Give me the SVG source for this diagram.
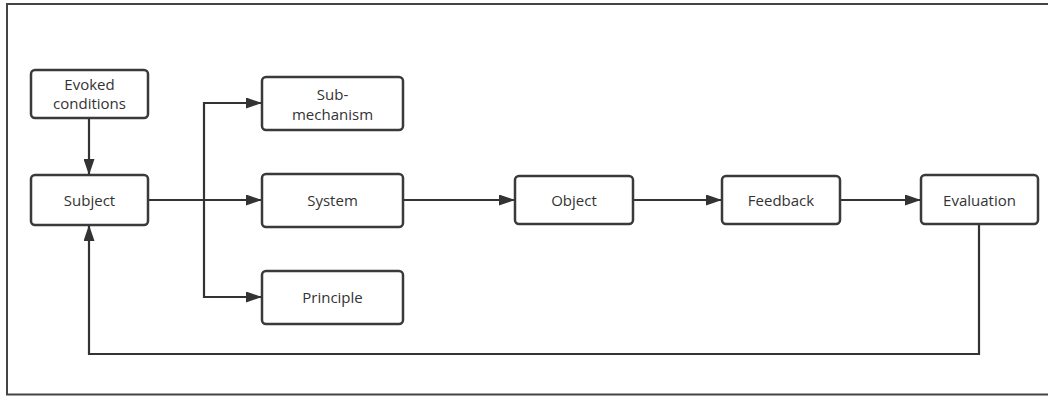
<svg xmlns="http://www.w3.org/2000/svg" width="1048" height="396" viewBox="0 0 1048 396">
<defs>
<style>
.node rect{fill:#fff;stroke:#3a3a3a;stroke-width:2.5}
.node text{font-family:"Open Sans","Noto Sans",sans-serif;font-size:15px;fill:#333;text-anchor:middle}
.conn path{fill:none;stroke:#333;stroke-width:2.2}
</style>
<marker id="ah" viewBox="0 0 16 11" refX="16" refY="5.5" markerWidth="16" markerHeight="11" markerUnits="userSpaceOnUse" orient="auto">
<path d="M0,0 L16,5.5 L0,11 Z" fill="#333"/>
</marker>
</defs>
<rect x="0" y="0" width="1048" height="396" fill="#fff"/>
<rect x="7" y="4" width="1060" height="390.5" fill="none" stroke="#444" stroke-width="2"/>
<g class="conn">
<path d="M89,118 L89,175" marker-end="url(#ah)"/>
<path d="M149,200 L262,200" marker-end="url(#ah)"/>
<path d="M204,200 L204,103 L262,103" marker-end="url(#ah)"/>
<path d="M204,200 L204,297 L262,297" marker-end="url(#ah)"/>
<path d="M403,200 L515,200" marker-end="url(#ah)"/>
<path d="M633,200 L722,200" marker-end="url(#ah)"/>
<path d="M840,200 L921,200" marker-end="url(#ah)"/>
<path d="M979,224 L979,354 L89,354 L89,225" marker-end="url(#ah)"/>
</g>
<g id="evoked" class="node"><rect x="31" y="70" width="117" height="48" rx="4"/><text x="89.5" y="90">Evoked</text><text x="89.5" y="108.5">conditions</text></g>
<g id="subject" class="node"><rect x="31" y="175" width="117" height="50" rx="4"/><text x="89.5" y="205.5">Subject</text></g>
<g id="submechanism" class="node"><rect x="262" y="77" width="141" height="53" rx="4"/><text x="332.5" y="100">Sub-</text><text x="332.5" y="120">mechanism</text></g>
<g id="system" class="node"><rect x="262" y="174" width="141" height="53" rx="4"/><text x="332.5" y="205.5">System</text></g>
<g id="principle" class="node"><rect x="262" y="271" width="141" height="53" rx="4"/><text x="332.5" y="302.5">Principle</text></g>
<g id="object" class="node"><rect x="515" y="176" width="118" height="48" rx="4"/><text x="574" y="205.5">Object</text></g>
<g id="feedback" class="node"><rect x="722" y="176" width="118" height="48" rx="4"/><text x="781" y="205.5">Feedback</text></g>
<g id="evaluation" class="node"><rect x="921" y="175" width="117" height="49" rx="4"/><text x="979.5" y="205.5">Evaluation</text></g>
</svg>
